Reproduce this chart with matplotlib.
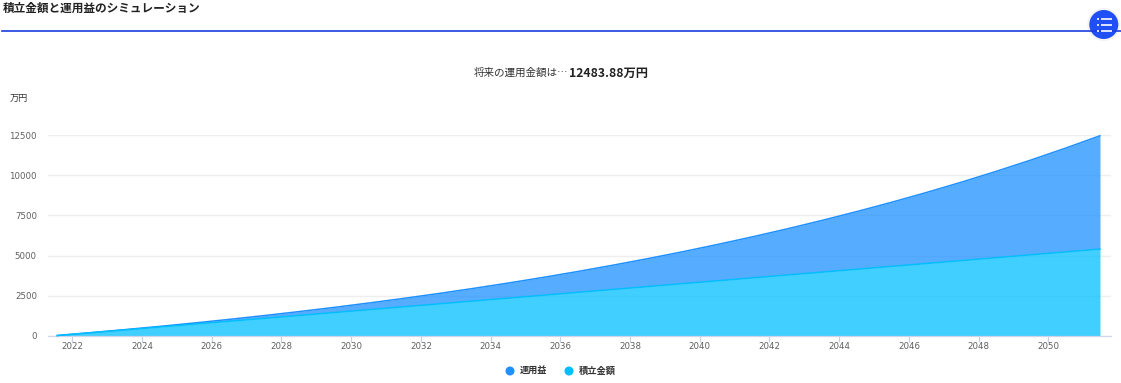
import matplotlib
matplotlib.use("Agg")
import matplotlib.pyplot as plt
from matplotlib.patches import Circle

plt.rcParams["font.family"] = ["Noto Sans CJK JP", "DejaVu Sans"]

# one point per year, sits a bit off the tick labels in the original
years = [2021.57 + i * 0.997 for i in range(31)]
total = [0, 184, 378, 581, 795, 1020, 1257, 1505, 1766, 2041, 2329,
         2633, 2952, 3287, 3639, 4009, 4399, 4808, 5238, 5691, 6166,
         6665, 7191, 7743, 8323, 8933, 9574, 10248, 10957, 11702, 12484]
saved = [0, 180, 360, 540, 720, 900, 1080, 1260, 1440, 1620, 1800,
         1980, 2160, 2340, 2520, 2700, 2880, 3060, 3240, 3420, 3600,
         3780, 3960, 4140, 4320, 4500, 4680, 4860, 5040, 5220, 5400]
x_ticks = list(range(2022, 2052, 2))
y_ticks = [0, 2500, 5000, 7500, 10000, 12500]

W, H = 1121, 383
fig = plt.figure(figsize=(W / 100, H / 100), dpi=100)

# plot area in pixels: x 48..1111, y 135.5..335.5
ax = fig.add_axes([48 / W, 1 - 335.5 / H, (1111 - 48) / W, 200 / H])
per_year = 34.86
x_left = 2022 - (72.3 - 48) / per_year
ax.set_xlim(x_left, x_left + (1111 - 48) / per_year)
ax.set_ylim(0, 12500)

ax.fill_between(years, saved, total, color="#1e90ff", alpha=0.75, lw=0, zorder=2)
ax.fill_between(years, 0, saved, color="#00bfff", alpha=0.75, lw=0, zorder=2)
ax.plot(years, total, color="#1e90ff", lw=1.1, zorder=3, clip_on=False)
ax.plot(years, saved, color="#00bfff", lw=1.1, zorder=3, clip_on=False)

for side in ["top", "right", "left"]:
    ax.spines[side].set_visible(False)
ax.spines["bottom"].set_color("#d0d6e8")
ax.spines["bottom"].set_linewidth(0.9)
ax.set_xticks(x_ticks)
ax.set_yticks(y_ticks)
ax.set_yticklabels([str(v) for v in y_ticks])
ax.grid(axis="y", color="#eeeeee", lw=1, zorder=0)
ax.set_axisbelow(True)
ax.tick_params(axis="x", length=4.5, width=0.9, color="#c8d0e6", labelsize=6.2,
               labelcolor="#5f5f5f", pad=0.2)
ax.tick_params(axis="y", length=0, labelsize=6.2, labelcolor="#5f5f5f", pad=8)
for lab in ax.get_xticklabels() + ax.get_yticklabels():
    lab.set_family("DejaVu Sans")

# everything outside the plot, in pixel coordinates
over = fig.add_axes([0, 0, 1, 1], zorder=5)
over.set_xlim(0, W)
over.set_ylim(H, 0)
over.axis("off")

over.text(3, 8, "積立金額と運用益のシミュレーション", fontsize=8.4, fontweight="bold",
          color="#222222", va="center", ha="left")
over.plot([2, 1121], [30.5, 30.5], color="#1a3de0", lw=1.2)
over.add_patch(Circle((1103.8, 24.5), 16.5, color="#f3f3f3", lw=0))
over.add_patch(Circle((1103.8, 24.5), 14.5, color="#1f4ff5", lw=0))
for y in [19, 25, 30.7]:
    over.plot([1096.5, 1098.5], [y, y], color="white", lw=1.2, solid_capstyle="butt")
    over.plot([1100.5, 1112], [y, y], color="white", lw=1.2, solid_capstyle="butt")

over.text(568, 73, "将来の運用金額は…", fontsize=7.6, color="#333333", va="center", ha="right")
over.text(569, 73, "12483.88万円", fontsize=8.8, fontweight="bold", color="#222222",
          va="center", ha="left")
over.text(10, 98, "万円", fontsize=6.6, color="#333333", va="center", ha="left")

over.add_patch(Circle((510, 371), 4.5, color="#1e90ff", lw=0))
over.text(519.5, 371, "運用益", fontsize=6.6, fontweight="bold", color="#333333",
          va="center", ha="left")
over.add_patch(Circle((569, 371), 4.5, color="#00bfff", lw=0))
over.text(579, 371, "積立金額", fontsize=6.7, fontweight="bold", color="#333333",
          va="center", ha="left")

fig.savefig("out.png", dpi=100)
